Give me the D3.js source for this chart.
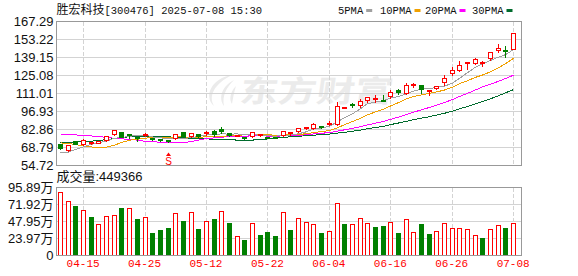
<!DOCTYPE html>
<html>
<head>
<meta charset="utf-8">
<script src="https://cdn.jsdelivr.net/npm/d3@7"></script>
<style>
  body { margin: 0; background: #fff; }
  svg { display: block; }
</style>
</head>
<body>
<svg id="chart" width="578" height="276"></svg>
<script>

// Trading days shown on the chart
const dates = ['04-10','04-11','04-14','04-15','04-16','04-17','04-18','04-21','04-22','04-23',
  '04-24','04-25','04-28','04-29','04-30','05-06','05-07','05-08','05-09','05-12',
  '05-13','05-14','05-15','05-16','05-19','05-20','05-21','05-22','05-23','05-26',
  '05-27','05-28','05-29','05-30','06-03','06-04','06-05','06-06','06-09','06-10',
  '06-11','06-12','06-13','06-16','06-17','06-18','06-19','06-20','06-23','06-24',
  '06-25','06-26','06-27','06-30','07-01','07-02','07-03','07-04','07-07','07-08'];

// Daily prices
const open  = [70.8,66.3,73.3,71.1,71.9,72.3,74.3,78.6,80.6,78.6, 76.5,78.6,75.6,75.0,74.5,75.8,80.7,77.6,78.9,79.9,
  81.0,83.1,79.4,77.9,76.8,77.5,78.4,76.9,76.6,78.2, 79.9,81.3,84.0,83.6,85.0,87.4,87.0,99.9,102.4,101.3,
  105.5,106.4,105.9,108.5,113.6,111.0,117.5,117.3,112.8,114.6, 119.3,126.6,128.7,134.7,134.5,134.7,138.0,144.3,144.8,145.4];
const high  = [71.6,70.9,74.1,75.5,73.7,73.5,78.2,83.1,81.1,80.0, 77.1,80.2,76.2,75.6,75.0,80.0,81.5,80.4,79.6,81.9,
  83.1,84.9,80.4,78.9,77.6,81.0,79.6,77.4,77.0,81.9, 81.5,84.3,85.4,88.3,85.8,90.1,104.4,100.7,104.2,106.8,
  108.9,109.9,110.2,114.1,114.8,119.8,119.6,118.3,114.1,116.7, 126.1,131.8,136.5,135.5,139.1,137.0,143.3,150.1,148.8,157.9];
const low   = [67.2,65.5,71.0,70.7,71.5,71.8,73.7,78.4,76.4,75.5, 73.3,77.6,74.5,73.5,73.0,74.9,76.5,76.8,76.5,78.2,
  77.1,79.7,77.2,77.0,75.3,76.4,77.6,76.1,75.6,77.1, 78.4,80.7,82.7,82.9,83.9,86.2,86.2,99.5,100.3,100.3,
  103.7,104.2,105.0,107.3,110.5,110.5,116.0,111.0,109.7,114.0, 117.5,125.3,127.9,129.8,134.0,132.3,137.0,143.3,139.1,145.4];
const close = [67.7,70.4,71.3,74.3,72.9,73.1,77.5,82.3,76.8,78.2, 76.1,79.0,75.0,73.9,73.5,78.9,77.1,79.7,77.4,80.3,
  79.2,81.0,78.2,78.4,76.3,80.2,78.8,76.5,76.2,81.0, 80.3,83.6,84.4,86.8,84.7,87.8,100.7,100.3,101.9,105.0,
  107.6,106.8,105.5,112.0,111.5,117.3,117.9,114.1,113.2,116.1, 122.7,129.2,133.1,135.1,137.8,135.1,143.1,146.4,144.3,157.9];

// Volume in 万 shares, and whether the bar is drawn red (1) or green (0)
const volume = [89.3,76.7,69.3,64.1,53.9,43.7,54.3,56.3,66.1,66.9, 51.1,52.9,31.5,35.7,38.5,59.1,47.3,60.5,37.1,47.9,
  51.1,61.9,45.5,26.9,21.7,45.1,28.7,32.9,27.3,60.5, 35.7,52.1,46.9,43.7,31.5,34.3,73.1,44.1,43.7,52.1,
  45.5,39.9,41.3,46.9,31.5,50.7,32.9,44.1,30.1,33.9, 45.1,38.1,38.1,36.7,28.3,24.5,36.7,42.3,38.5,44.94];
const volUp = [1,1,0,1,0,1,1,1,0,1, 0,1,0,0,0,1,0,1,0,1, 0,1,0,1,0,1,0,0,0,1,
  0,1,1,1,0,1,1,0,1,1, 1,0,0,1,0,1,1,0,0,1, 1,1,1,1,1,0,1,1,0,1];

// Moving averages as drawn
const ma5  = [64.9,65.2,67.3,69.4,71.32,72.40,73.82,76.02,76.52,77.58, 78.18,78.48,77.02,76.44,75.5,76.06,75.68,76.62,77.32,78.68,
  78.74,79.52,79.22,79.42,78.62,78.82,78.38,78.04,77.6,78.54, 78.56,79.52,81.1,83.22,83.96,85.46,88.88,92.06,95.08,99.14,
  103.1,104.32,105.36,107.38,108.68,110.62,112.84,114.56,114.8,115.72, 116.8,119.06,122.86,127.24,131.58,134.06,136.84,139.5,141.34,145.36];
const ma10 = [72.4,72.0,71.0,70.0,69.2,68.6,69.0,70.6,72.8,74.45, 75.29,76.15,76.52,76.48,76.54,77.12,77.08,76.82,76.88,77.09,
  77.40,77.60,77.92,78.37,78.65,78.78,78.95,78.63,78.51,78.58, 78.69,78.95,79.57,80.41,81.25,82.01,84.20,86.58,89.15,91.55,
  94.28,96.60,98.71,101.23,103.91,106.86,108.58,109.96,111.09,112.20, 113.71,115.95,118.71,121.02,123.65,125.43,127.95,131.18,134.29,138.47];
const ma20 = [79.2,79.2,78.6,78.4,77.8,77.2,76.8,76.0,75.6,75.0, 74.6,73.6,73.2,73.0,72.8,72.6,72.6,73.4,74.6,75.77,
  76.35,76.88,77.22,77.43,77.60,77.95,78.02,77.73,77.70,77.84, 78.05,78.28,78.75,79.39,79.95,80.40,81.58,82.61,83.83,85.07,
  86.49,87.78,89.14,90.82,92.58,94.44,96.39,98.27,100.12,101.88, 104.00,106.28,108.71,111.13,113.78,116.15,118.27,120.57,122.69,125.34];
const ma30 = [72.4,72.6,73.0,73.6,73.8,74.2,75.0,75.8,76.6,77.2, 77.4,77.5,77.5,77.3,77.1,76.8,76.4,76.0,75.8,75.5,
  75.3,75.1,74.8,74.6,74.5,74.6,75.0,75.5,76.2,76.71, 77.13,77.57,78.00,78.42,78.81,79.30,80.08,80.68,81.51,82.41,
  83.46,84.38,85.40,86.67,87.94,89.22,90.58,91.72,92.92,94.11, 95.56,97.17,99.00,100.89,102.94,104.77,106.91,109.24,111.51,114.07];

// Axis ticks
const priceTicks = [54.72, 68.79, 82.86, 96.93, 111.01, 125.08, 139.15, 153.22, 167.29];
const volTicks = [0, 23.97, 47.95, 71.92, 95.89];
const dateTicks = ['04-15','04-25','05-12','05-22','06-04','06-16','06-26','07-08'];
const lastVolume = 449366;
const sellDate = '04-30';

const UP = '#ff0000', DOWN = '#008000', GRID = '#d3d3d3', BORDER = '#999';
const left = 56.5, right = 521.5;

const svg = d3.select('#chart');

// Scales
const x = d3.scaleBand().domain(dates).range([56.2, 517]);
const cx = d => Math.round(x(d) + x.bandwidth() / 2) + 0.5;
const yP = d3.scaleLinear().domain([priceTicks[0], priceTicks[priceTicks.length - 1]]).range([165.5, 21.5]);
const yV = d3.scaleLinear().domain([0, volTicks[volTicks.length - 1]]).range([255.5, 187.5]);
const snap = v => Math.round(v - 0.5) + 0.5;

// Watermark
const wm = svg.append('g').attr('fill', '#ebebeb');
wm.append('path')
  .attr('d', 'M232,75 C212,78 203,96 214,106 C208,96 214,84 232,75 Z M234,80 C222,86 218,98 224,106 C222,96 226,88 234,80 Z M236,86 C230,92 229,100 232,104 C233,98 234,92 236,86 Z');
wm.append('text')
  .attr('x', 240).attr('y', 102)
  .attr('font-family', '"Noto Sans CJK SC", sans-serif')
  .attr('font-weight', 'bold')
  .attr('font-size', 30)
  .attr('textLength', 153).attr('lengthAdjust', 'spacingAndGlyphs')
  .attr('transform', 'skewX(-8) translate(13,0)')
  .text('东方财富');

// Grid lines
const grid = svg.append('g').attr('shape-rendering', 'crispEdges');
grid.selectAll('.hp').data(priceTicks.slice(1, -1)).join('line')
  .attr('x1', left).attr('x2', right)
  .attr('y1', d => snap(yP(d))).attr('y2', d => snap(yP(d)))
  .attr('stroke', GRID);
grid.selectAll('.hv').data(volTicks.slice(1, -1)).join('line')
  .attr('class', 'hv')
  .attr('x1', left).attr('x2', right)
  .attr('y1', d => snap(yV(d))).attr('y2', d => snap(yV(d)))
  .attr('stroke', GRID);
[[yP.range()[1], yP.range()[0]], [yV.range()[1], yV.range()[0]]].forEach(([t, b]) => {
  grid.append('g').selectAll('line').data(dateTicks).join('line')
    .attr('x1', d => cx(d)).attr('x2', d => cx(d))
    .attr('y1', t).attr('y2', b)
    .attr('stroke', GRID).attr('stroke-dasharray', '4,2');
});

// Moving average lines
const maLines = [
  {values: ma30, color: '#006b2d'},
  {values: ma20, color: '#ff00ff'},
  {values: ma10, color: '#f0a000'},
  {values: ma5,  color: '#a0a0a0'}
];
const line = d3.line().x((d, i) => cx(dates[i])).y(d => yP(d));
svg.append('g').selectAll('path').data(maLines).join('path')
  .attr('d', d => line(d.values))
  .attr('fill', 'none')
  .attr('stroke', d => d.color)
  .attr('stroke-width', 1)
  .attr('shape-rendering', 'crispEdges');

// Candles
const candles = svg.append('g').attr('shape-rendering', 'crispEdges');
dates.forEach((d, i) => {
  const up = close[i] >= open[i];
  const c = up ? UP : DOWN;
  const xc = cx(d);
  const top = snap(yP(Math.max(open[i], close[i])));
  const bot = Math.max(top + 1, snap(yP(Math.min(open[i], close[i]))));
  candles.append('line')
    .attr('x1', xc).attr('x2', xc)
    .attr('y1', snap(yP(high[i]))).attr('y2', snap(yP(low[i])))
    .attr('stroke', c);
  if (up) {
    candles.append('rect')
      .attr('x', xc - 2).attr('y', top).attr('width', 4).attr('height', bot - top)
      .attr('fill', bot - top > 1 ? '#fff' : 'none').attr('stroke', c);
  } else {
    candles.append('rect')
      .attr('x', xc - 2.5).attr('y', top - 0.5).attr('width', 5).attr('height', bot - top + 1)
      .attr('fill', c);
  }
});

// Sell marker
const sx = cx(sellDate);
svg.append('path')
  .attr('d', `M${sx - 2.5},156 L${sx},152.5 L${sx + 2.5},156 Z`)
  .attr('fill', UP);
svg.append('text')
  .attr('x', sx).attr('y', 164.5)
  .attr('text-anchor', 'middle')
  .attr('font-family', '"Liberation Sans", sans-serif')
  .attr('font-size', 10)
  .attr('fill', UP)
  .text('S');

// Volume bars
const bars = svg.append('g').attr('shape-rendering', 'crispEdges');
dates.forEach((d, i) => {
  const xc = cx(d);
  const top = snap(yV(volume[i]));
  const bot = yV(0);
  if (volUp[i]) {
    bars.append('rect')
      .attr('x', xc - 2).attr('y', top).attr('width', 4).attr('height', bot - top)
      .attr('fill', '#fff').attr('stroke', UP);
  } else {
    bars.append('rect')
      .attr('x', xc - 2.5).attr('y', top - 0.5).attr('width', 5).attr('height', bot - top + 0.5)
      .attr('fill', DOWN);
  }
});

// Panel borders
svg.append('g').attr('shape-rendering', 'crispEdges').selectAll('rect')
  .data([yP.range(), yV.range()]).join('rect')
  .attr('x', left).attr('y', d => d[1])
  .attr('width', right - left).attr('height', d => d[0] - d[1])
  .attr('fill', 'none').attr('stroke', BORDER);

// Axes
const labelFont = '"Liberation Sans", "Noto Sans CJK SC", sans-serif';
const pAxis = svg.append('g').attr('transform', `translate(${left - 3},0)`)
  .call(d3.axisLeft(yP).tickValues(priceTicks).tickSize(0).tickPadding(0).tickFormat(d3.format('.2f')));
const vAxis = svg.append('g').attr('transform', `translate(${left - 3},0)`)
  .call(d3.axisLeft(yV).tickValues(volTicks).tickSize(0).tickPadding(0)
    .tickFormat(d => d === 0 ? '0' : d3.format('.2f')(d) + '万'));
[pAxis, vAxis].forEach(a => {
  a.select('.domain').remove();
  a.selectAll('text').attr('font-family', labelFont).attr('font-size', 13).attr('fill', '#111');
});

const xAxis = svg.append('g').attr('transform', 'translate(0,259)')
  .call(d3.axisBottom(x).tickValues(dateTicks).tickSize(0).tickPadding(0));
xAxis.select('.domain').remove();
xAxis.selectAll('text')
  .attr('font-family', '"Liberation Mono", monospace')
  .attr('font-size', 11).attr('fill', UP);

// Title
const title = svg.append('text').attr('x', left).attr('y', 14).attr('fill', '#111');
title.append('tspan').attr('font-family', '"Noto Sans CJK SC", sans-serif').attr('font-size', 12).text('胜宏科技');
title.append('tspan').attr('font-family', '"Liberation Mono", monospace').attr('font-size', 10.5).text('[300476] 2025-07-08 15:30');

// Volume caption
svg.append('text').attr('x', left).attr('y', 181)
  .attr('font-family', labelFont).attr('font-size', 13).attr('fill', '#111')
  .text('成交量:' + lastVolume);

// Legend
const legendItems = [
  {name: '5PMA', color: '#a0a0a0', x: 338},
  {name: '10PMA', color: '#f0a000', x: 380},
  {name: '20PMA', color: '#ff00ff', x: 425},
  {name: '30PMA', color: '#006b2d', x: 472}
];
const lg = svg.append('g').selectAll('g').data(legendItems).join('g');
lg.append('text')
  .attr('x', d => d.x).attr('y', 14)
  .attr('font-family', '"Liberation Mono", monospace')
  .attr('font-size', 10.5).attr('fill', '#111')
  .text(d => d.name);
lg.append('rect')
  .attr('x', d => d.x + d.name.length * 6.3 + 3).attr('y', 9)
  .attr('width', 6).attr('height', 3)
  .attr('fill', d => d.color);
</script>
</body>
</html>
